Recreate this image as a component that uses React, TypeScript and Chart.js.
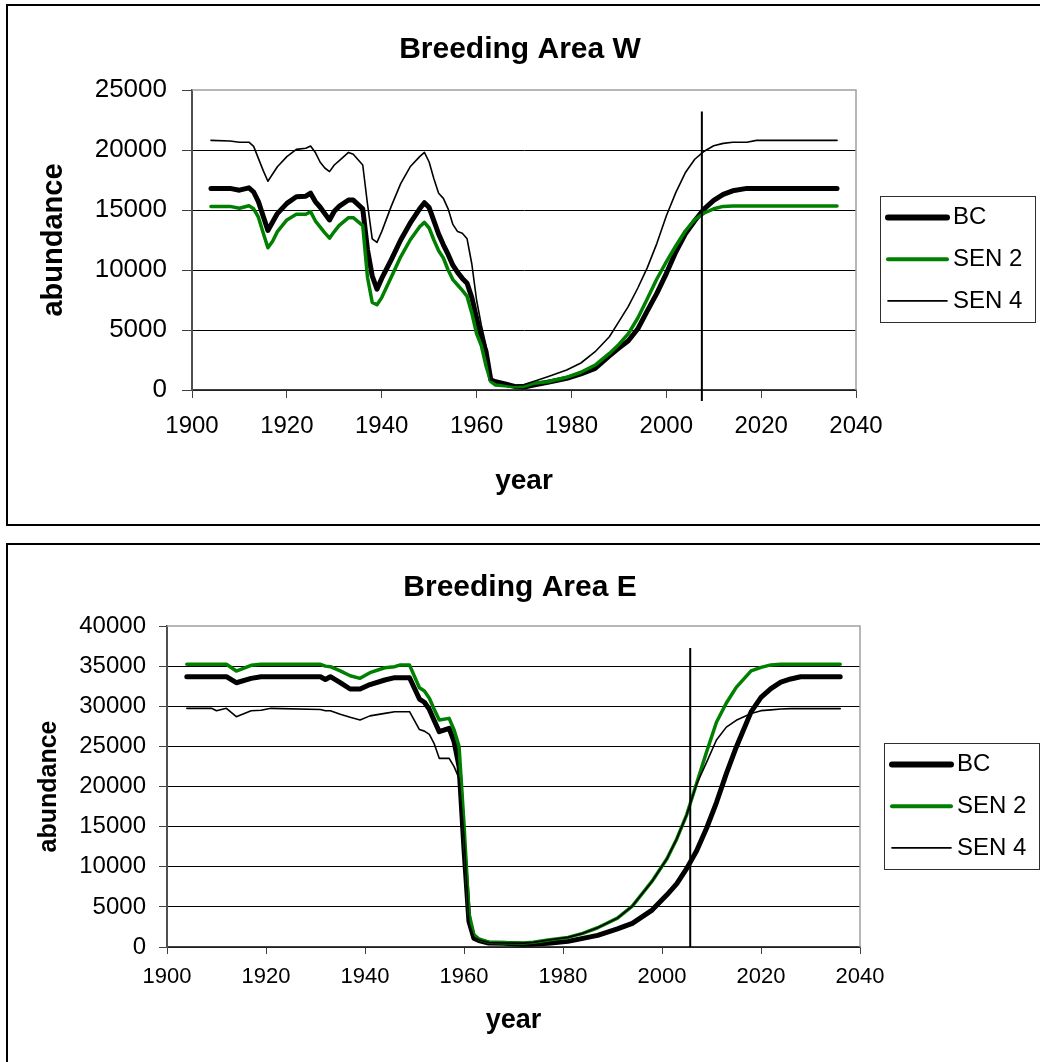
import React, { useEffect, useRef } from "react";
import { Chart, registerables, layouts } from "chart.js";

Chart.register(...registerables);

const FONT = 'Arial, "Liberation Sans", Helvetica, sans-serif';

// ---------- shared ----------
const SERIES_NAMES = ["BC", "SEN 2", "SEN 4"];
const X_TICK_YEARS = [1900, 1920, 1940, 1960, 1980, 2000, 2020, 2040];

// ---------- Breeding Area W ----------
const TITLE_W = "Breeding Area W";
const Y_TICKS_W = [0, 5000, 10000, 15000, 20000, 25000];
const YEARS_W = [
  1904, 1908, 1910, 1912, 1913, 1914, 1915, 1916, 1917, 1918,
  1920, 1922, 1924, 1925, 1926, 1927, 1928, 1929, 1930, 1931,
  1933, 1934, 1936, 1937, 1938, 1939, 1940, 1942, 1944, 1946,
  1948, 1949, 1950, 1951, 1952, 1953, 1954, 1955, 1956, 1957,
  1958, 1959, 1960, 1961, 1962, 1963, 1964, 1966, 1968, 1970,
  1972, 1975, 1979, 1982, 1985, 1988, 1990, 1992, 1994, 1996,
  1998, 2000, 2002, 2004, 2006, 2008, 2010, 2012, 2014, 2017,
  2019, 2036,
];
const BC_W = [
  16800, 16800, 16650, 16850, 16500, 15700, 14500, 13300, 14000, 14700,
  15550, 16100, 16150, 16400, 15700, 15250, 14700, 14170, 14900, 15300,
  15830, 15830, 15100, 11700, 9500, 8400, 9300, 10850, 12500, 13900,
  15100, 15610, 15200, 14100, 13000, 12100, 11300, 10400, 9800, 9300,
  8900, 7700, 6000, 4400, 3200, 850, 690, 500, 300, 250,
  420, 650, 970, 1350, 1800, 2850, 3500, 4100, 5100, 6600,
  8050, 9700, 11500, 13000, 14100, 15100, 15800, 16300, 16600, 16800,
  16800, 16800,
];
const SEN2_W = [
  15300, 15300, 15150, 15350, 15100, 14400, 13100, 11850, 12400, 13200,
  14170, 14640, 14650, 14860, 14100, 13600, 13100, 12650, 13200, 13700,
  14360, 14360, 13700, 9400, 7300, 7100, 7700, 9400, 11100, 12500,
  13600, 13970, 13500, 12500, 11600, 11000, 10000, 9200, 8750, 8300,
  7800, 6400, 4700, 3700, 2000, 700, 420, 350, 280, 300,
  560, 690, 1060, 1480, 2080, 3050, 3800, 4700, 6000, 7600,
  9250, 10670, 12000, 13250, 14200, 14750, 15100, 15300, 15330, 15330,
  15330, 15330,
];
const SEN4_W = [
  20800, 20750, 20650, 20650, 20300, 19300, 18300, 17400, 18000, 18600,
  19450, 20050, 20150, 20330, 19800, 19000, 18500, 18200, 18750, 19100,
  19800, 19650, 18750, 15500, 12600, 12300, 13200, 15300, 17200, 18600,
  19450, 19800, 19000, 17600, 16400, 15970, 15100, 13800, 13200, 13060,
  12600, 10500, 7500, 5400, 3700, 850, 690, 500, 400, 450,
  700, 1100, 1670, 2250, 3190, 4440, 5700, 6970, 8500, 10200,
  12200, 14500, 16450, 18100, 19230, 19900, 20350, 20550, 20640, 20640,
  20800, 20800,
];
const MARKER_YEAR_W = 2007.5;
const MARKER_TOP_W = 23200;

// ---------- Breeding Area E ----------
const TITLE_E = "Breeding Area E";
const Y_TICKS_E = [0, 5000, 10000, 15000, 20000, 25000, 30000, 35000, 40000];
const YEARS_E = [
  1904, 1909, 1910, 1912, 1914, 1917, 1919, 1921, 1931, 1932,
  1933, 1935, 1937, 1939, 1941, 1944, 1946, 1947, 1949, 1951,
  1952, 1953, 1954, 1955, 1957, 1958, 1959, 1960, 1961, 1962,
  1963, 1965, 1968, 1972, 1974, 1977, 1981, 1984, 1987, 1991,
  1994, 1998, 2001, 2003, 2005, 2007, 2009, 2011, 2013, 2015,
  2018, 2020, 2022, 2024, 2026, 2028, 2036,
];
const BC_E = [
  33680, 33680, 33680, 33680, 32930, 33470, 33680, 33680, 33680, 33340,
  33680, 32950, 32150, 32150, 32700, 33270, 33560, 33560, 33560, 30900,
  30500, 29600, 28200, 26830, 27250, 25580, 22500, 12200, 3200, 1100,
  800, 500, 460, 330, 380, 480, 700, 1080, 1450, 2250,
  2950, 4600, 6500, 7900, 9800, 12000, 14800, 18000, 21600, 24900,
  29300, 31100, 32200, 33000, 33400, 33680, 33680,
];
const SEN2_E = [
  35230, 35230, 35230, 35230, 34390, 35100, 35230, 35230, 35230, 35000,
  34930, 34400, 33800, 33480, 34180, 34800, 34930, 35130, 35130, 32300,
  31900, 31000, 29600, 28280, 28490, 27040, 25000, 15300, 4200, 1500,
  1000, 600, 540, 500, 580, 870, 1200, 1700, 2400, 3600,
  5100, 8200, 11000, 13500, 16500, 20400, 24300, 28000, 30400, 32350,
  34400, 34850, 35150, 35230, 35230, 35230, 35230,
];
const SEN4_E = [
  29740, 29740, 29440, 29740, 28700, 29440, 29500, 29740, 29600, 29440,
  29440, 29000, 28620, 28280, 28800, 29110, 29320, 29320, 29320, 27100,
  26900, 26500, 25300, 23510, 23510, 22470, 21000, 13700, 3000, 1200,
  900, 550, 500, 480, 580, 870, 1200, 1700, 2400, 3600,
  5100, 8200, 11000, 13500, 16500, 20300, 23000, 25800, 27400, 28250,
  29100, 29450, 29550, 29650, 29700, 29700, 29700,
];
const MARKER_YEAR_E = 2005.7;
const MARKER_TOP_E = 37260;

// ---------- styles (layout only) ----------
type Style = {
  canvasTop: number; height: number;
  titleSize: number; titlePadTop: number; titlePadBottom: number;
  yWidth: number; yTickSize: number; yTickPad: number; yTickLen: number;
  yTitleSize: number; yTitlePad: number;
  xHeight: number; xTickSize: number; xTickPad: number; xTickLen: number;
  xTitleSize: number; xTitlePad: number;
  legendArea: number; markerExt: number;
};

const STYLE_W: Style = {
  canvasTop: 0, height: 530,
  titleSize: 30, titlePadTop: 32, titlePadBottom: 22,
  yWidth: 192, yTickSize: 26, yTickPad: 15, yTickLen: 10,
  yTitleSize: 29, yTitlePad: 37,
  xHeight: 140, xTickSize: 24, xTickPad: 14, xTickLen: 8,
  xTitleSize: 28, xTitlePad: 32,
  legendArea: 184, markerExt: 11,
};
const STYLE_E: Style = {
  canvasTop: 535, height: 527,
  titleSize: 30, titlePadTop: 35, titlePadBottom: 20,
  yWidth: 167, yTickSize: 24, yTickPad: 13, yTickLen: 8,
  yTitleSize: 25, yTitlePad: 34,
  xHeight: 115, xTickSize: 22, xTickPad: 10, xTickLen: 7,
  xTitleSize: 27, xTitlePad: 25,
  legendArea: 180, markerExt: 0,
};

const LEGEND = {
  gap: 24, w: 155, h: 126, shift: 19, row0: 21.5, rowStep: 41.7,
  font: 24, lineFrom: 8, lineTo: 67, textX: 73, lineWidths: [6, 4, 1.6],
};

type Spec = {
  title: string; years: number[]; bc: number[]; sen2: number[]; sen4: number[];
  yTicks: number[]; markerYear: number; markerTop: number; style: Style;
};

function legendBoxPlugin(st: Style) {
  return {
    id: "boxLegend",
    beforeInit(chart: any) {
      const box: any = {
        position: "right", weight: 0, fullSize: false, options: {},
        top: 0, left: 0, bottom: 0, right: 0, width: 0, height: 0,
        isHorizontal: () => false,
        update(_maxW: number, maxH: number) { box.width = st.legendArea; box.height = maxH; },
        draw() {
          const ca = chart.chartArea;
          const ctx = chart.ctx;
          const fx = Math.round(ca.right + LEGEND.gap);
          const fy = Math.round((ca.top + ca.bottom) / 2 + LEGEND.shift - LEGEND.h / 2);
          ctx.save();
          ctx.strokeStyle = "#303030";
          ctx.lineWidth = 1;
          ctx.strokeRect(fx + 0.5, fy + 0.5, LEGEND.w, LEGEND.h);
          chart.data.datasets.forEach((ds: any, i: number) => {
            const y = fy + LEGEND.row0 + i * LEGEND.rowStep;
            ctx.beginPath();
            ctx.strokeStyle = ds.borderColor;
            ctx.lineWidth = LEGEND.lineWidths[i];
            ctx.lineCap = "round";
            ctx.moveTo(fx + LEGEND.lineFrom, y);
            ctx.lineTo(fx + LEGEND.lineTo, y);
            ctx.stroke();
            ctx.fillStyle = "#000";
            ctx.font = `${LEGEND.font}px ${FONT}`;
            ctx.textBaseline = "middle";
            ctx.textAlign = "left";
            ctx.fillText(ds.label, fx + LEGEND.textX, y);
          });
          ctx.restore();
        },
      };
      layouts.addBox(chart, box);
    },
  };
}

function framePlugin(spec: Spec) {
  return {
    id: "frameMarker",
    beforeDatasetsDraw(chart: any) {
      const { ctx, chartArea: ca } = chart;
      ctx.save();
      ctx.strokeStyle = "#a0a0a0";
      ctx.lineWidth = 1.5;
      ctx.beginPath();
      ctx.moveTo(ca.left, ca.top);
      ctx.lineTo(ca.right, ca.top);
      ctx.lineTo(ca.right, ca.bottom);
      ctx.stroke();
      ctx.restore();
    },
    afterDatasetsDraw(chart: any) {
      const { ctx, chartArea: ca, scales } = chart;
      const x = scales.x.getPixelForValue(spec.markerYear);
      const y1 = scales.y.getPixelForValue(spec.markerTop);
      ctx.save();
      ctx.strokeStyle = "#000";
      ctx.lineWidth = 2;
      ctx.beginPath();
      ctx.moveTo(x, y1);
      ctx.lineTo(x, ca.bottom + spec.style.markerExt);
      ctx.stroke();
      ctx.restore();
    },
  };
}

function buildConfig(spec: Spec): any {
  const st = spec.style;
  const yMax = spec.yTicks[spec.yTicks.length - 1];
  const mk = (label: string, vals: number[], color: string, width: number, order: number) => ({
    label,
    data: spec.years.map((x, i) => ({ x, y: vals[i] })),
    borderColor: color,
    backgroundColor: color,
    borderWidth: width,
    pointRadius: 0,
    pointHoverRadius: 0,
    tension: 0,
    fill: false,
    borderCapStyle: "round",
    borderJoinStyle: "round",
    order,
  });
  return {
    type: "line",
    data: {
      datasets: [
        mk(SERIES_NAMES[0], spec.bc, "#000000", 5, 2),
        mk(SERIES_NAMES[1], spec.sen2, "#008000", 3.5, 1),
        mk(SERIES_NAMES[2], spec.sen4, "#000000", 1.6, 0),
      ],
    },
    options: {
      responsive: false,
      animation: false,
      events: [],
      layout: { padding: 0 },
      plugins: {
        legend: { display: false },
        tooltip: { enabled: false },
        title: {
          display: true,
          text: spec.title,
          color: "#000",
          font: { family: FONT, size: st.titleSize, weight: "bold", lineHeight: 1.2 },
          padding: { top: st.titlePadTop, bottom: st.titlePadBottom },
        },
      },
      scales: {
        x: {
          type: "linear",
          min: X_TICK_YEARS[0],
          max: X_TICK_YEARS[X_TICK_YEARS.length - 1],
          afterFit: (sc: any) => { sc.height = st.xHeight; },
          afterBuildTicks: (sc: any) => { sc.ticks = X_TICK_YEARS.map((v) => ({ value: v })); },
          grid: {
            display: true, drawOnChartArea: false, drawTicks: true,
            tickLength: st.xTickLen, tickColor: "#404040", tickWidth: 1,
          },
          border: { display: true, color: "#404040", width: 1.5 },
          ticks: {
            autoSkip: false, maxRotation: 0, minRotation: 0,
            padding: st.xTickPad, color: "#000",
            font: { family: FONT, size: st.xTickSize },
            callback: (v: any) => String(v),
          },
          title: {
            display: true, text: "year", color: "#000",
            font: { family: FONT, size: st.xTitleSize, weight: "bold", lineHeight: 1.2 },
            padding: { top: 0, bottom: st.xTitlePad },
          },
        },
        y: {
          type: "linear",
          min: spec.yTicks[0],
          max: yMax,
          afterFit: (sc: any) => { sc.width = st.yWidth; },
          afterBuildTicks: (sc: any) => { sc.ticks = spec.yTicks.map((v) => ({ value: v })); },
          grid: {
            display: true, drawOnChartArea: true, drawTicks: true,
            color: (c: any) => (c.tick && c.tick.value === yMax ? "rgba(0,0,0,0)" : "#000"),
            lineWidth: 1,
            tickLength: st.yTickLen, tickColor: "#404040", tickWidth: 1,
          },
          border: { display: true, color: "#505050", width: 2 },
          ticks: {
            autoSkip: false, padding: st.yTickPad, color: "#000",
            font: { family: FONT, size: st.yTickSize },
            callback: (v: any) => String(v),
          },
          title: {
            display: true, text: "abundance", color: "#000",
            font: { family: FONT, size: st.yTitleSize, weight: "bold", lineHeight: 1.2 },
            padding: { top: st.yTitlePad, bottom: 0 },
          },
        },
      },
    },
    plugins: [legendBoxPlugin(st), framePlugin(spec)],
  };
}

const SPEC_W: Spec = {
  title: TITLE_W, years: YEARS_W, bc: BC_W, sen2: SEN2_W, sen4: SEN4_W,
  yTicks: Y_TICKS_W, markerYear: MARKER_YEAR_W, markerTop: MARKER_TOP_W, style: STYLE_W,
};
const SPEC_E: Spec = {
  title: TITLE_E, years: YEARS_E, bc: BC_E, sen2: SEN2_E, sen4: SEN4_E,
  yTicks: Y_TICKS_E, markerYear: MARKER_YEAR_E, markerTop: MARKER_TOP_E, style: STYLE_E,
};

function AbundanceChart({ spec }: { spec: Spec }) {
  const ref = useRef<HTMLCanvasElement>(null);
  useEffect(() => {
    if (!ref.current) return;
    const chart = new Chart(ref.current, buildConfig(spec));
    return () => chart.destroy();
  }, [spec]);
  return (
    <canvas
      ref={ref}
      width={1040}
      height={spec.style.height}
      style={{ position: "absolute", left: 0, top: spec.style.canvasTop, display: "block" }}
    />
  );
}

export default function App() {
  const boxStyle = (top: number, height: number): React.CSSProperties => ({
    position: "absolute", left: 6, top, width: 1100, height,
    border: "2px solid #000", boxSizing: "border-box",
  });
  return (
    <div style={{ position: "fixed", left: 0, top: 0, width: 1040, height: 1062, overflow: "hidden", background: "#fff" }}>
      <div style={boxStyle(4, 522)} />
      <div style={boxStyle(543, 600)} />
      <AbundanceChart spec={SPEC_W} />
      <AbundanceChart spec={SPEC_E} />
    </div>
  );
}
